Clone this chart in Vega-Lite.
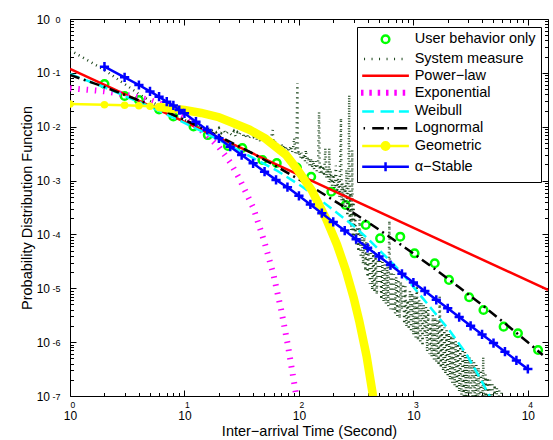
{
"$schema": "https://vega.github.io/schema/vega-lite/v6.json",
"width": 478, "height": 377,
"autosize": {"type": "none"},
"padding": {"left": 70, "top": 19, "right": 5, "bottom": 44},
"background": "white",
"data": {"values": [
{"series":"User behavior only","x":2,"y":0.0621},{"series":"User behavior only","x":3,"y":0.0372},{"series":"User behavior only","x":4,"y":0.0313},{"series":"User behavior only","x":6,"y":0.021},{"series":"User behavior only","x":8,"y":0.0155},{"series":"User behavior only","x":12,"y":0.0101},{"series":"User behavior only","x":16,"y":0.0070},{"series":"User behavior only","x":24,"y":0.00438},{"series":"User behavior only","x":32,"y":0.00403},{"series":"User behavior only","x":48,"y":0.00241},{"series":"User behavior only","x":64,"y":0.00212},{"series":"User behavior only","x":96,"y":0.00175},{"series":"User behavior only","x":128,"y":0.00118},{"series":"User behavior only","x":192,"y":6.22e-4},{"series":"User behavior only","x":256,"y":3.52e-4},{"series":"User behavior only","x":384,"y":1.5e-4},{"series":"User behavior only","x":512,"y":8.47e-5},{"series":"User behavior only","x":768,"y":9.08e-5},{"series":"User behavior only","x":1024,"y":4.46e-5},{"series":"User behavior only","x":1536,"y":2.91e-5},{"series":"User behavior only","x":2048,"y":1.43e-5},{"series":"User behavior only","x":3072,"y":6.81e-6},{"series":"User behavior only","x":4096,"y":3.96e-6},{"series":"User behavior only","x":6144,"y":1.94e-6},{"series":"User behavior only","x":8192,"y":1.46e-6},{"series":"User behavior only","x":12288,"y":7.15e-7},
{"series":"System measure","x":1,"y":0.265},{"series":"System measure","x":2,"y":0.113},{"series":"System measure","x":3,"y":0.062},{"series":"System measure","x":4,"y":0.0405},{"series":"System measure","x":5,"y":0.030},{"series":"System measure","x":6,"y":0.0248},{"series":"System measure","x":7,"y":0.0196},{"series":"System measure","x":8,"y":0.0172},{"series":"System measure","x":9,"y":0.0151},{"series":"System measure","x":10,"y":0.0133},{"series":"System measure","x":11,"y":0.0124},{"series":"System measure","x":12,"y":0.0112},{"series":"System measure","x":13,"y":0.0106},{"series":"System measure","x":14,"y":0.0097},{"series":"System measure","x":15,"y":0.0092},{"series":"System measure","x":16,"y":0.0095},{"series":"System measure","x":17,"y":0.0084},{"series":"System measure","x":18,"y":0.0089},{"series":"System measure","x":19,"y":0.0080},{"series":"System measure","x":20,"y":0.0094},{"series":"System measure","x":21,"y":0.0077},{"series":"System measure","x":22,"y":0.0086},{"series":"System measure","x":23,"y":0.0073},{"series":"System measure","x":24,"y":0.0081},{"series":"System measure","x":25,"y":0.0075},
{"series":"System measure","x":26,"y":0.0070},{"series":"System measure","x":27,"y":0.0082},{"series":"System measure","x":28,"y":0.0066},{"series":"System measure","x":29,"y":0.0078},{"series":"System measure","x":30,"y":0.0070},{"series":"System measure","x":32,"y":0.0088},{"series":"System measure","x":33,"y":0.0062},{"series":"System measure","x":35,"y":0.0074},{"series":"System measure","x":36,"y":0.0060},{"series":"System measure","x":38,"y":0.0068},{"series":"System measure","x":40,"y":0.0064},{"series":"System measure","x":42,"y":0.0075},{"series":"System measure","x":43,"y":0.0056},{"series":"System measure","x":45,"y":0.0066},{"series":"System measure","x":46,"y":0.0052},{"series":"System measure","x":48,"y":0.0070},{"series":"System measure","x":50,"y":0.0080},{"series":"System measure","x":51,"y":0.0055},{"series":"System measure","x":53,"y":0.0062},{"series":"System measure","x":55,"y":0.0048},{"series":"System measure","x":57,"y":0.0060},{"series":"System measure","x":59,"y":0.0087},{"series":"System measure","x":60,"y":0.0045},{"series":"System measure","x":62,"y":0.0055},{"series":"System measure","x":64,"y":0.0042},{"series":"System measure","x":66,"y":0.0050},{"series":"System measure","x":68,"y":0.0038},{"series":"System measure","x":70,"y":0.0048},{"series":"System measure","x":72,"y":0.0040},{"series":"System measure","x":75,"y":0.0046},{"series":"System measure","x":77,"y":0.0036},{"series":"System measure","x":80,"y":0.0042},{"series":"System measure","x":82,"y":0.0035},{"series":"System measure","x":85,"y":0.0044},{"series":"System measure","x":87,"y":0.0033},{"series":"System measure","x":89,"y":0.0040},{"series":"System measure","x":91,"y":0.0062},{"series":"System measure","x":93,"y":0.0032},{"series":"System measure","x":95,"y":0.0038},{"series":"System measure","x":97,"y":0.065},{"series":"System measure","x":98,"y":0.0030},
{"series":"System measure","x":100,"y":0.0036},{"series":"System measure","x":103,"y":0.0026},{"series":"System measure","x":105,"y":0.0033},{"series":"System measure","x":108,"y":0.0024},{"series":"System measure","x":110,"y":0.0031},{"series":"System measure","x":113,"y":0.0023},{"series":"System measure","x":115,"y":0.0037},{"series":"System measure","x":118,"y":0.0021},{"series":"System measure","x":120,"y":0.0028},{"series":"System measure","x":124,"y":0.0019},{"series":"System measure","x":127,"y":0.0026},{"series":"System measure","x":130,"y":0.0017},{"series":"System measure","x":133,"y":0.0024},{"series":"System measure","x":136,"y":0.0016},{"series":"System measure","x":140,"y":0.0023},{"series":"System measure","x":143,"y":0.0015},{"series":"System measure","x":147,"y":0.0021},{"series":"System measure","x":150,"y":0.0188},{"series":"System measure","x":152,"y":0.0014},{"series":"System measure","x":155,"y":0.0020},{"series":"System measure","x":158,"y":0.0013},{"series":"System measure","x":162,"y":0.0019},{"series":"System measure","x":166,"y":0.0012},{"series":"System measure","x":170,"y":0.0040},{"series":"System measure","x":174,"y":0.0011},{"series":"System measure","x":178,"y":0.0017},{"series":"System measure","x":182,"y":0.00095},{"series":"System measure","x":184,"y":0.0040},{"series":"System measure","x":187,"y":0.00090},{"series":"System measure","x":190,"y":0.0015},{"series":"System measure","x":195,"y":0.00080},{"series":"System measure","x":200,"y":0.0013},{"series":"System measure","x":205,"y":0.00070},{"series":"System measure","x":210,"y":0.0019},{"series":"System measure","x":215,"y":0.00060},{"series":"System measure","x":220,"y":0.0011},{"series":"System measure","x":226,"y":0.00050},{"series":"System measure","x":233,"y":0.0145},{"series":"System measure","x":236,"y":0.00042},{"series":"System measure","x":240,"y":0.0009},{"series":"System measure","x":245,"y":0.00036},{"series":"System measure","x":250,"y":0.0008},{"series":"System measure","x":255,"y":0.00030},{"series":"System measure","x":260,"y":0.0016},{"series":"System measure","x":265,"y":0.00022},{"series":"System measure","x":270,"y":0.0007},{"series":"System measure","x":275,"y":0.0388},{"series":"System measure","x":278,"y":0.00016},{"series":"System measure","x":282,"y":0.0006},{"series":"System measure","x":286,"y":0.00012},{"series":"System measure","x":290,"y":0.0005},{"series":"System measure","x":292,"y":0.0037},{"series":"System measure","x":295,"y":0.00009},{"series":"System measure","x":300,"y":0.0004},{"series":"System measure","x":305,"y":0.00008},{"series":"System measure","x":310,"y":0.00025},
{"series":"System measure","x":316,"y":6.4e-5},{"series":"System measure","x":324,"y":1.39e-4},{"series":"System measure","x":331,"y":4.8e-5},{"series":"System measure","x":339,"y":1.9e-4},{"series":"System measure","x":347,"y":3.7e-5},{"series":"System measure","x":355,"y":1.02e-4},{"series":"System measure","x":363,"y":2.8e-5},{"series":"System measure","x":372,"y":8.8e-5},{"series":"System measure","x":380,"y":2.1e-5},{"series":"System measure","x":389,"y":7.5e-5},{"series":"System measure","x":398,"y":1.6e-5},{"series":"System measure","x":407,"y":6.5e-5},{"series":"System measure","x":417,"y":1.22e-5},{"series":"System measure","x":427,"y":5.5e-5},{"series":"System measure","x":437,"y":9.3e-6},{"series":"System measure","x":447,"y":4.9e-5},{"series":"System measure","x":457,"y":8.4e-6},{"series":"System measure","x":468,"y":4.4e-5},{"series":"System measure","x":479,"y":7.6e-6},{"series":"System measure","x":490,"y":3.9e-5},{"series":"System measure","x":501,"y":1.2e-5},{"series":"System measure","x":513,"y":3.5e-5},{"series":"System measure","x":525,"y":6.2e-6},{"series":"System measure","x":537,"y":3.15e-5},{"series":"System measure","x":550,"y":5.6e-6},{"series":"System measure","x":562,"y":2.8e-5},{"series":"System measure","x":575,"y":5.1e-6},{"series":"System measure","x":589,"y":2.5e-5},{"series":"System measure","x":603,"y":4.6e-6},{"series":"System measure","x":617,"y":1.8e-4},{"series":"System measure","x":631,"y":4.1e-6},{"series":"System measure","x":646,"y":2.04e-5},{"series":"System measure","x":661,"y":3.7e-6},{"series":"System measure","x":676,"y":1.83e-5},{"series":"System measure","x":692,"y":3.4e-6},{"series":"System measure","x":708,"y":1.64e-5},{"series":"System measure","x":724,"y":3.05e-6},{"series":"System measure","x":741,"y":1.47e-5},{"series":"System measure","x":759,"y":2.75e-6},{"series":"System measure","x":776,"y":1.33e-5},{"series":"System measure","x":794,"y":4.0e-6},{"series":"System measure","x":813,"y":1.21e-5},{"series":"System measure","x":832,"y":2.17e-6},{"series":"System measure","x":851,"y":1.1e-5},{"series":"System measure","x":871,"y":1.93e-6},{"series":"System measure","x":891,"y":6.0e-6},{"series":"System measure","x":912,"y":1.72e-6},{"series":"System measure","x":933,"y":9.0e-6},{"series":"System measure","x":955,"y":1.53e-6},{"series":"System measure","x":977,"y":8.2e-6},{"series":"System measure","x":1000,"y":1.36e-6},{"series":"System measure","x":1023,"y":7.4e-6},{"series":"System measure","x":1047,"y":1.21e-6},{"series":"System measure","x":1072,"y":1.26e-5},{"series":"System measure","x":1096,"y":1.07e-6},{"series":"System measure","x":1122,"y":6.1e-6},{"series":"System measure","x":1148,"y":9.5e-7},{"series":"System measure","x":1175,"y":5.5e-6},{"series":"System measure","x":1202,"y":8.5e-7},{"series":"System measure","x":1230,"y":5.0e-6},{"series":"System measure","x":1259,"y":1.3e-6},{"series":"System measure","x":1288,"y":4.5e-6},{"series":"System measure","x":1318,"y":6.7e-7},{"series":"System measure","x":1349,"y":4.0e-6},{"series":"System measure","x":1380,"y":6.0e-7},{"series":"System measure","x":1413,"y":2.2e-6},{"series":"System measure","x":1445,"y":5.3e-7},{"series":"System measure","x":1479,"y":3.2e-6},{"series":"System measure","x":1514,"y":4.7e-7},{"series":"System measure","x":1549,"y":2.9e-6},{"series":"System measure","x":1585,"y":4.2e-7},{"series":"System measure","x":1622,"y":2.6e-6},{"series":"System measure","x":1660,"y":3.7e-7},{"series":"System measure","x":1698,"y":7.0e-6},{"series":"System measure","x":1738,"y":3.3e-7},{"series":"System measure","x":1778,"y":2.1e-6},{"series":"System measure","x":1820,"y":2.9e-7},{"series":"System measure","x":1862,"y":1.86e-6},{"series":"System measure","x":1905,"y":2.55e-7},{"series":"System measure","x":1950,"y":1.66e-6},{"series":"System measure","x":1995,"y":2.24e-7},{"series":"System measure","x":2042,"y":1.48e-6},{"series":"System measure","x":2089,"y":1.98e-7},{"series":"System measure","x":2138,"y":1.33e-6},{"series":"System measure","x":2188,"y":1.74e-7},{"series":"System measure","x":2239,"y":1.19e-6},{"series":"System measure","x":2291,"y":1.53e-7},{"series":"System measure","x":2344,"y":1.06e-6},{"series":"System measure","x":2399,"y":1.35e-7},{"series":"System measure","x":2455,"y":9.5e-7},{"series":"System measure","x":2512,"y":1.19e-7},{"series":"System measure","x":2570,"y":8.4e-7},{"series":"System measure","x":2630,"y":1.04e-7},{"series":"System measure","x":2692,"y":7.5e-7},{"series":"System measure","x":2754,"y":9.0e-8},{"series":"System measure","x":2818,"y":6.7e-7},{"series":"System measure","x":2884,"y":7.9e-8},{"series":"System measure","x":2951,"y":6.0e-7},{"series":"System measure","x":3020,"y":7.0e-8},{"series":"System measure","x":3090,"y":5.3e-7},{"series":"System measure","x":3162,"y":6.0e-8},{"series":"System measure","x":3236,"y":4.8e-7},{"series":"System measure","x":3311,"y":5.3e-8},{"series":"System measure","x":3388,"y":4.3e-7},{"series":"System measure","x":3467,"y":4.6e-8},{"series":"System measure","x":3548,"y":3.8e-7},{"series":"System measure","x":3631,"y":4.0e-8},{"series":"System measure","x":3715,"y":3.4e-7},{"series":"System measure","x":3802,"y":3.5e-8},{"series":"System measure","x":3890,"y":3.05e-7},{"series":"System measure","x":3981,"y":3.0e-8},{"series":"System measure","x":4074,"y":5.3e-7},{"series":"System measure","x":4169,"y":2.7e-8},{"series":"System measure","x":4266,"y":2.5e-7},{"series":"System measure","x":4365,"y":2.4e-8},{"series":"System measure","x":4467,"y":2.2e-7},{"series":"System measure","x":4571,"y":2.1e-8},{"series":"System measure","x":4677,"y":2.0e-7},{"series":"System measure","x":4786,"y":1.9e-8},{"series":"System measure","x":4898,"y":1.8e-7},{"series":"System measure","x":5012,"y":1.6e-8},{"series":"System measure","x":5129,"y":1.6e-7},{"series":"System measure","x":5248,"y":1.5e-8},{"series":"System measure","x":5370,"y":1.43e-7},{"series":"System measure","x":5495,"y":1.3e-8},{"series":"System measure","x":5623,"y":1.29e-7},{"series":"System measure","x":5888,"y":1.16e-7},{"series":"System measure","x":6026,"y":1e-8},
{"series":"Power−law","x":1,"y":0.118},{"series":"Power−law","x":15000,"y":9.3e-6},
{"series":"Exponential","x":1,"y":0.0517},{"series":"Exponential","x":2,"y":0.0455},{"series":"Exponential","x":3,"y":0.0397},{"series":"Exponential","x":5,"y":0.0313},{"series":"Exponential","x":7,"y":0.0241},{"series":"Exponential","x":10,"y":0.0158},{"series":"Exponential","x":15,"y":0.0076},{"series":"Exponential","x":20,"y":0.0042},{"series":"Exponential","x":25,"y":0.0022},{"series":"Exponential","x":30,"y":0.00112},{"series":"Exponential","x":40,"y":3.1e-4},{"series":"Exponential","x":50,"y":7.2e-5},{"series":"Exponential","x":60,"y":1.77e-5},{"series":"Exponential","x":70,"y":3.95e-6},{"series":"Exponential","x":80,"y":8.9e-7},{"series":"Exponential","x":90,"y":1.98e-7},{"series":"Exponential","x":100,"y":5.0e-8},
{"series":"Weibull","x":1,"y":0.0952},{"series":"Weibull","x":2,"y":0.054},{"series":"Weibull","x":5,"y":0.0235},{"series":"Weibull","x":10,"y":0.0118},{"series":"Weibull","x":20,"y":0.0057},{"series":"Weibull","x":40,"y":0.0026},{"series":"Weibull","x":63,"y":0.00157},{"series":"Weibull","x":107,"y":7.7e-4},{"series":"Weibull","x":160,"y":4.1e-4},{"series":"Weibull","x":233,"y":2.2e-4},{"series":"Weibull","x":294,"y":1.5e-4},{"series":"Weibull","x":411,"y":7.9e-5},{"series":"Weibull","x":575,"y":3.86e-5},{"series":"Weibull","x":778,"y":2.03e-5},{"series":"Weibull","x":1052,"y":9.3e-6},{"series":"Weibull","x":1469,"y":3.95e-6},{"series":"Weibull","x":2055,"y":1.68e-6},{"series":"Weibull","x":2877,"y":6.2e-7},{"series":"Weibull","x":3758,"y":2.29e-7},{"series":"Weibull","x":4592,"y":1.04e-7},{"series":"Weibull","x":5200,"y":5e-8},
{"series":"Lognormal","x":1,"y":0.0912},{"series":"Lognormal","x":2,"y":0.0547},{"series":"Lognormal","x":5,"y":0.02554},{"series":"Lognormal","x":10,"y":0.01343},{"series":"Lognormal","x":20,"y":0.00667},{"series":"Lognormal","x":39.8,"y":0.00315},{"series":"Lognormal","x":63.1,"y":0.001847},{"series":"Lognormal","x":100,"y":0.001056},{"series":"Lognormal","x":158.5,"y":5.89e-4},{"series":"Lognormal","x":251,"y":3.2e-4},{"series":"Lognormal","x":398,"y":1.7e-4},{"series":"Lognormal","x":631,"y":8.79e-5},{"series":"Lognormal","x":1000,"y":4.43e-5},{"series":"Lognormal","x":1585,"y":2.18e-5},{"series":"Lognormal","x":2512,"y":1.046e-5},{"series":"Lognormal","x":3981,"y":4.9e-6},{"series":"Lognormal","x":6310,"y":2.23e-6},{"series":"Lognormal","x":10000,"y":9.94e-7},{"series":"Lognormal","x":13490,"y":5.79e-7},
{"series":"Geometric","x":1,"y":0.0263},{"series":"Geometric","x":2,"y":0.0257},{"series":"Geometric","x":3,"y":0.0251},{"series":"Geometric","x":4,"y":0.0245},{"series":"Geometric","x":5,"y":0.0239},{"series":"Geometric","x":6,"y":0.0233},{"series":"Geometric","x":7,"y":0.0222},{"series":"Geometric","x":10,"y":0.0204},{"series":"Geometric","x":14,"y":0.0180},{"series":"Geometric","x":20,"y":0.0150},{"series":"Geometric","x":26,"y":0.0120},{"series":"Geometric","x":37,"y":0.0088},{"series":"Geometric","x":51,"y":0.0060},{"series":"Geometric","x":77,"y":0.0030},{"series":"Geometric","x":97,"y":0.0016},{"series":"Geometric","x":130,"y":6.5e-4},{"series":"Geometric","x":172,"y":2.0e-4},{"series":"Geometric","x":215,"y":6.5e-5},{"series":"Geometric","x":258,"y":2.1e-5},{"series":"Geometric","x":300,"y":6.8e-6},{"series":"Geometric","x":336,"y":2.5e-6},{"series":"Geometric","x":390,"y":5.5e-7},{"series":"Geometric","x":438,"y":1.2e-7},{"series":"Geometric","x":460,"y":6e-8},
{"series":"α−Stable","x":2,"y":0.130},{"series":"α−Stable","x":3,"y":0.0828},{"series":"α−Stable","x":4,"y":0.0595},{"series":"α−Stable","x":5,"y":0.0452},{"series":"α−Stable","x":6,"y":0.0361},{"series":"α−Stable","x":7,"y":0.0291},{"series":"α−Stable","x":8,"y":0.0248},{"series":"α−Stable","x":9,"y":0.0204},{"series":"α−Stable","x":10,"y":0.0177},{"series":"α−Stable","x":12.6,"y":0.0124},{"series":"α−Stable","x":15.8,"y":0.00869},{"series":"α−Stable","x":20,"y":0.0061},{"series":"α−Stable","x":25.1,"y":0.00426},{"series":"α−Stable","x":31.6,"y":0.00298},{"series":"α−Stable","x":39.8,"y":0.00209},{"series":"α−Stable","x":50.1,"y":0.00146},{"series":"α−Stable","x":63.1,"y":0.00103},{"series":"α−Stable","x":79.4,"y":7.53e-4},{"series":"α−Stable","x":100,"y":5.2e-4},{"series":"α−Stable","x":125.9,"y":3.6e-4},{"series":"α−Stable","x":158.5,"y":2.48e-4},{"series":"α−Stable","x":199.5,"y":1.71e-4},{"series":"α−Stable","x":251.2,"y":1.18e-4},{"series":"α−Stable","x":316.2,"y":8.16e-5},{"series":"α−Stable","x":398.1,"y":5.65e-5},{"series":"α−Stable","x":501.2,"y":3.89e-5},{"series":"α−Stable","x":631,"y":2.7e-5},{"series":"α−Stable","x":794.3,"y":1.86e-5},{"series":"α−Stable","x":1000,"y":1.28e-5},{"series":"α−Stable","x":1259,"y":8.87e-6},{"series":"α−Stable","x":1585,"y":6.11e-6},{"series":"α−Stable","x":1995,"y":4.24e-6},{"series":"α−Stable","x":2512,"y":2.92e-6},{"series":"α−Stable","x":3162,"y":2.01e-6},{"series":"α−Stable","x":3981,"y":1.39e-6},{"series":"α−Stable","x":5012,"y":9.6e-7},{"series":"α−Stable","x":6310,"y":6.65e-7},{"series":"α−Stable","x":7943,"y":4.58e-7},{"series":"α−Stable","x":10000,"y":3.17e-7}
]},
"resolve": {"axis": {"x": "independent", "y": "independent"}},
"layer": [
{
"transform": [{"filter": "datum.series === 'User behavior only'"}],
"mark": {"type": "point", "filled": false, "size": 100, "strokeWidth": 2.5, "opacity": 1, "clip": true},
"encoding": {
"x": {"field": "x", "type": "quantitative", "scale": {"type": "log", "domain": [1, 15000], "nice": false},
 "axis": {"orient": "bottom", "values": [1, 10, 100, 1000, 10000], "labelExpr": "'10'", "ticks": false, "domain": false, "grid": false, "labelFontSize": 12, "labelPadding": 14, "labelBaseline": "top", "labelAlign": "center", "labelDx": -3.5, "labelFlush": false, "labelOverlap": false, "title": "Inter−arrival Time (Second)", "titleFontSize": 14.5, "titleFontWeight": "normal", "titleBaseline": "alphabetic", "titleY": 39.5}},
"y": {"field": "y", "type": "quantitative", "scale": {"type": "log", "domain": [1e-7, 1], "nice": false},
 "axis": {"orient": "left", "values": [1e-7, 1e-6, 1e-5, 1e-4, 0.001, 0.01, 0.1, 1], "labelExpr": "'10'", "ticks": false, "domain": false, "grid": false, "labelFontSize": 12, "labelPadding": 20.5, "labelAlign": "right", "labelBaseline": "middle", "labelDy": 1, "labelFlush": false, "labelOverlap": false, "title": "Probability Distribution Function", "titleFontSize": 14.5, "titleFontWeight": "normal", "titleAngle": 270, "titleBaseline": "alphabetic", "titleAlign": "center", "titleX": -39, "titleY": 188.5}},
"stroke": {"field": "series", "type": "nominal", "scale": {"domain": ["User behavior only", "System measure", "Power−law", "Exponential", "Weibull", "Lognormal", "Geometric", "α−Stable"], "range": ["#00ff00", "#1a441a", "#ff0000", "#ff00ff", "#00ffff", "#000000", "#ffff00", "#0000ff"]}, "legend": {"title": null, "orient": "none", "legendX": 287, "legendY": 8}},
"fill": {"field": "series", "type": "nominal", "scale": {"domain": ["User behavior only", "System measure", "Power−law", "Exponential", "Weibull", "Lognormal", "Geometric", "α−Stable"], "range": ["transparent", "transparent", "transparent", "transparent", "transparent", "transparent", "#ffff00", "transparent"]}, "legend": {"title": null, "orient": "none", "legendX": 287, "legendY": 8}},
"shape": {"field": "series", "type": "nominal", "scale": {"domain": ["User behavior only", "System measure", "Power−law", "Exponential", "Weibull", "Lognormal", "Geometric", "α−Stable"], "range": [
 "M-4.67,0M4.67,0M0.76,0A0.76,0.76,0,1,1,-0.76,0A0.76,0.76,0,1,1,0.76,0Z",
 "M-4.67,0M4.67,0M-4.3,0H-4.1M-2.8,0H-2.6M-1.3,0H-1.1M0.2,0H0.4M1.7,0H1.9M3.2,0H3.4",
 "M-4.67,0H4.67",
 "M-4.67,0M4.67,0M-4.66,-0.6V0.6M-3,-0.6V0.6M-1.32,-0.6V0.6M0.34,-0.6V0.6M2,-0.6V0.6M3.68,-0.6V0.6",
 "M-4.67,0H-2.33M-1,0H1.67M2.67,0H4.67",
 "M-4.67,0M4.67,0M-4.4,0H-4.1M-2.67,0H-0.33M0.4,0H0.7M1.67,0H4.33",
 "M-4.67,0H4.67M0.75,0A0.75,0.75,0,1,1,-0.75,0A0.75,0.75,0,1,1,0.75,0Z",
 "M-4.67,0H4.67M0,-0.9V0.9"]}, "legend": {"title": null, "orient": "none", "legendX": 287, "legendY": 8}}
}
},
{
"transform": [{"filter": "datum.series === 'System measure'"}],
"mark": {"type": "line", "color": "#1a441a", "strokeWidth": 2.5, "strokeDash": [1, 4], "clip": true},
"encoding": {
"x": {"field": "x", "type": "quantitative", "scale": {"type": "log", "domain": [1, 15000], "nice": false},
 "axis": {"orient": "bottom", "values": [1, 10, 100, 1000, 10000], "labelExpr": "format(log(datum.value)/LN10, '.0f')", "ticks": false, "domain": false, "grid": false, "labelFontSize": 8.5, "labelPadding": 4, "labelBaseline": "top", "labelAlign": "left", "labelDx": 7.5, "labelFlush": false, "labelOverlap": false, "title": null}},
"y": {"field": "y", "type": "quantitative", "scale": {"type": "log", "domain": [1e-7, 1], "nice": false},
 "axis": {"orient": "left", "values": [1e-7, 1e-6, 1e-5, 1e-4, 0.001, 0.01, 0.1, 1], "labelExpr": "datum.value >= 0.5 ? '0' : '-' + format(-log(datum.value)/LN10, '.0f')", "ticks": false, "domain": false, "grid": false, "labelFontSize": 9, "labelPadding": 10, "labelAlign": "right", "labelBaseline": "middle", "labelDy": -5.5, "labelFlush": false, "labelOverlap": false, "title": null}}
}
},
{
"transform": [{"filter": "datum.series === 'Power−law'"}],
"mark": {"type": "line", "color": "#ff0000", "strokeWidth": 2.5, "clip": true},
"encoding": {
"x": {"field": "x", "type": "quantitative", "scale": {"type": "log", "domain": [1, 15000], "nice": false},
 "axis": {"orient": "bottom", "values": [1, 10, 100, 1000, 10000], "labels": false, "ticks": true, "tickSize": -6, "domain": false, "grid": false, "title": null}},
"y": {"field": "y", "type": "quantitative", "scale": {"type": "log", "domain": [1e-7, 1], "nice": false},
 "axis": {"orient": "left", "values": [1e-7, 1e-6, 1e-5, 1e-4, 0.001, 0.01, 0.1, 1], "labels": false, "ticks": true, "tickSize": -6, "domain": false, "grid": false, "title": null}}
}
},
{
"transform": [{"filter": "datum.series === 'Exponential'"}],
"mark": {"type": "line", "color": "#ff00ff", "strokeWidth": 6, "strokeDash": [1.5, 6.8], "clip": true},
"encoding": {
"x": {"field": "x", "type": "quantitative", "scale": {"type": "log", "domain": [1, 15000], "nice": false},
 "axis": {"orient": "bottom", "values": [2,3,4,5,6,7,8,9,20,30,40,50,60,70,80,90,200,300,400,500,600,700,800,900,2000,3000,4000,5000,6000,7000,8000,9000], "labels": false, "ticks": true, "tickSize": -3.5, "domain": false, "grid": false, "title": null}},
"y": {"field": "y", "type": "quantitative", "scale": {"type": "log", "domain": [1e-7, 1], "nice": false},
 "axis": {"orient": "left", "values": [2e-7,3e-7,4e-7,5e-7,6e-7,7e-7,8e-7,9e-7,2e-6,3e-6,4e-6,5e-6,6e-6,7e-6,8e-6,9e-6,2e-5,3e-5,4e-5,5e-5,6e-5,7e-5,8e-5,9e-5,2e-4,3e-4,4e-4,5e-4,6e-4,7e-4,8e-4,9e-4,0.002,0.003,0.004,0.005,0.006,0.007,0.008,0.009,0.02,0.03,0.04,0.05,0.06,0.07,0.08,0.09,0.2,0.3,0.4,0.5,0.6,0.7,0.8,0.9], "labels": false, "ticks": true, "tickSize": -3.5, "domain": false, "grid": false, "title": null}}
}
},
{
"transform": [{"filter": "datum.series === 'Weibull'"}],
"mark": {"type": "line", "color": "#00ffff", "strokeWidth": 2.5, "strokeDash": [10, 5], "clip": true},
"encoding": {
"x": {"field": "x", "type": "quantitative", "scale": {"type": "log", "domain": [1, 15000], "nice": false},
 "axis": {"orient": "top", "values": [1, 10, 100, 1000, 10000], "labels": false, "ticks": true, "tickSize": -6, "domain": false, "grid": false, "title": null}},
"y": {"field": "y", "type": "quantitative", "scale": {"type": "log", "domain": [1e-7, 1], "nice": false},
 "axis": {"orient": "right", "values": [1e-7, 1e-6, 1e-5, 1e-4, 0.001, 0.01, 0.1, 1], "labels": false, "ticks": true, "tickSize": -6, "domain": false, "grid": false, "title": null}}
}
},
{
"transform": [{"filter": "datum.series === 'Lognormal'"}],
"mark": {"type": "line", "color": "#000000", "strokeWidth": 2.5, "strokeDash": [10, 4.5, 2, 4.5], "clip": true},
"encoding": {
"x": {"field": "x", "type": "quantitative", "scale": {"type": "log", "domain": [1, 15000], "nice": false},
 "axis": {"orient": "top", "values": [2,3,4,5,6,7,8,9,20,30,40,50,60,70,80,90,200,300,400,500,600,700,800,900,2000,3000,4000,5000,6000,7000,8000,9000], "labels": false, "ticks": true, "tickSize": -3.5, "domain": false, "grid": false, "title": null}},
"y": {"field": "y", "type": "quantitative", "scale": {"type": "log", "domain": [1e-7, 1], "nice": false},
 "axis": {"orient": "right", "values": [2e-7,3e-7,4e-7,5e-7,6e-7,7e-7,8e-7,9e-7,2e-6,3e-6,4e-6,5e-6,6e-6,7e-6,8e-6,9e-6,2e-5,3e-5,4e-5,5e-5,6e-5,7e-5,8e-5,9e-5,2e-4,3e-4,4e-4,5e-4,6e-4,7e-4,8e-4,9e-4,0.002,0.003,0.004,0.005,0.006,0.007,0.008,0.009,0.02,0.03,0.04,0.05,0.06,0.07,0.08,0.09,0.2,0.3,0.4,0.5,0.6,0.7,0.8,0.9], "labels": false, "ticks": true, "tickSize": -3.5, "domain": false, "grid": false, "title": null}}
}
},
{
"transform": [{"filter": "datum.series === 'Geometric'"}],
"mark": {"type": "line", "color": "#ffff00", "strokeWidth": 2.5, "clip": true},
"encoding": {
"x": {"field": "x", "type": "quantitative", "scale": {"type": "log", "domain": [1, 15000], "nice": false}, "axis": null},
"y": {"field": "y", "type": "quantitative", "scale": {"type": "log", "domain": [1e-7, 1], "nice": false}, "axis": null}
}
},
{
"transform": [{"filter": "datum.series === 'Geometric' && datum.x <= 6"}],
"mark": {"type": "point", "shape": "circle", "filled": true, "color": "#ffff00", "size": 56, "opacity": 1, "clip": true},
"encoding": {
"x": {"field": "x", "type": "quantitative", "scale": {"type": "log", "domain": [1, 15000], "nice": false}, "axis": null},
"y": {"field": "y", "type": "quantitative", "scale": {"type": "log", "domain": [1e-7, 1], "nice": false}, "axis": null}
}
},
{
"transform": [{"filter": "datum.series === 'Geometric' && datum.x >= 6"}],
"mark": {"type": "line", "color": "#ffff00", "strokeWidth": 8.5, "strokeCap": "round", "clip": true},
"encoding": {
"x": {"field": "x", "type": "quantitative", "scale": {"type": "log", "domain": [1, 15000], "nice": false}, "axis": null},
"y": {"field": "y", "type": "quantitative", "scale": {"type": "log", "domain": [1e-7, 1], "nice": false}, "axis": null}
}
},
{
"transform": [{"filter": "datum.series === 'α−Stable'"}],
"mark": {"type": "line", "color": "#0000ff", "strokeWidth": 2.5, "clip": true},
"encoding": {
"x": {"field": "x", "type": "quantitative", "scale": {"type": "log", "domain": [1, 15000], "nice": false}, "axis": null},
"y": {"field": "y", "type": "quantitative", "scale": {"type": "log", "domain": [1e-7, 1], "nice": false}, "axis": null}
}
},
{
"transform": [{"filter": "datum.series === 'α−Stable'"}],
"mark": {"type": "point", "shape": "M-1,0H1M0,-1V1", "filled": false, "color": "#0000ff", "strokeWidth": 2.5, "size": 85, "opacity": 1, "clip": true},
"encoding": {
"x": {"field": "x", "type": "quantitative", "scale": {"type": "log", "domain": [1, 15000], "nice": false}, "axis": null},
"y": {"field": "y", "type": "quantitative", "scale": {"type": "log", "domain": [1e-7, 1], "nice": false}, "axis": null}
}
}
],
"config": {
"font": "Liberation Sans",
"view": {"stroke": "black", "strokeWidth": 1},
"axis": {"grid": false, "labelFont": "Liberation Sans", "titleFont": "Liberation Sans", "labelColor": "black", "titleColor": "black", "tickColor": "black", "tickWidth": 1, "domainColor": "black"},
"legend": {"padding": 5, "rowPadding": 1.8, "symbolOffset": 16.3, "labelOffset": 21.9, "symbolSize": 100, "symbolStrokeWidth": 2.5, "labelFont": "Liberation Sans", "labelFontSize": 14.5, "labelColor": "black", "labelLimit": 200, "fillColor": "white", "strokeColor": "black"}
}
}
